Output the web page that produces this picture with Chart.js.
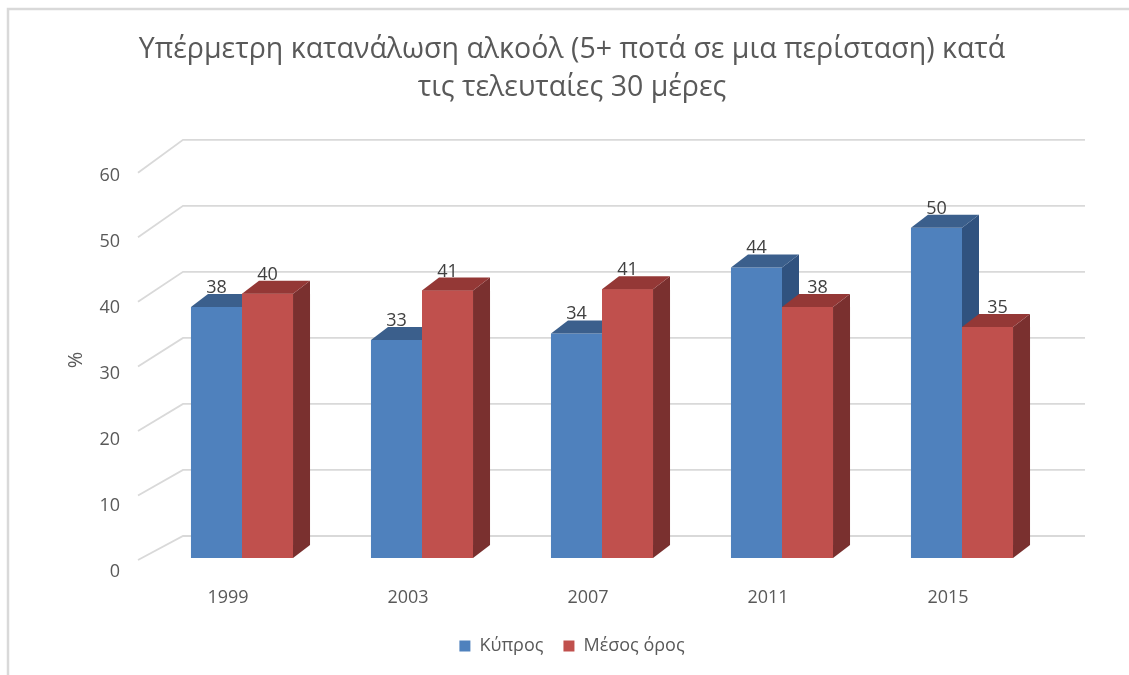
<!DOCTYPE html>
<html><head><meta charset="utf-8">
<script src="https://cdn.jsdelivr.net/npm/chart.js@4.4.1/dist/chart.umd.min.js"></script>
<style>html,body{margin:0;padding:0;background:#fff;} canvas{display:block;}</style>
</head><body>
<canvas id="c" width="1129" height="675"></canvas>
<script>
const categories = ['1999', '2003', '2007', '2011', '2015'];
const cyprusValues = [38, 33, 34, 44, 50];
const averageValues = [40, 40.5, 40.7, 38, 35];
const seriesNames = ['Κύπρος', 'Μέσος όρος'];
const yTicks = [0, 10, 20, 30, 40, 50, 60];
const titleLines = ['Υπέρμετρη κατανάλωση αλκοόλ (5+ ποτά σε μια περίσταση) κατά', 'τις τελευταίες 30 μέρες'];
const yAxisTitle = '%';

const DEPTH_X = 17, DEPTH_Y = 13;
const FONT = "'Open Sans', sans-serif";
const TEXT = '#595959';
const frontColors = ['#4F81BD', '#C0504D'];
const faceColors = [{top: '#3B5F8C', side: '#30527F'}, {top: '#943836', side: '#7A302F'}];

function drawFaces(ctx, bar, c) {
  const {x, y, base, width} = bar.getProps(['x', 'y', 'base', 'width'], true);
  const x1 = x - width / 2, x2 = x + width / 2;
  ctx.fillStyle = c.side;
  ctx.beginPath();
  ctx.moveTo(x2, y); ctx.lineTo(x2 + DEPTH_X, y - DEPTH_Y);
  ctx.lineTo(x2 + DEPTH_X, base - DEPTH_Y); ctx.lineTo(x2, base);
  ctx.closePath(); ctx.fill();
  ctx.fillStyle = c.top;
  ctx.beginPath();
  ctx.moveTo(x1, y); ctx.lineTo(x2, y);
  ctx.lineTo(x2 + DEPTH_X, y - DEPTH_Y); ctx.lineTo(x1 + DEPTH_X, y - DEPTH_Y);
  ctx.closePath(); ctx.fill();
}

const threeD = {
  id: 'threeD',
  beforeDraw(chart) {
    const ctx = chart.ctx;
    ctx.save();
    ctx.fillStyle = '#fff';
    ctx.fillRect(0, 0, chart.width, chart.height);
    ctx.strokeStyle = '#D9D9D9';
    ctx.lineWidth = 2.5;
    ctx.beginPath();
    ctx.moveTo(8, chart.height); ctx.lineTo(8, 9); ctx.lineTo(chart.width, 9);
    ctx.stroke();
    ctx.restore();
  },
  beforeDatasetsDraw(chart) {
    const ctx = chart.ctx, ys = chart.scales.y, area = chart.chartArea;
    ctx.save();
    ctx.strokeStyle = '#D9D9D9';
    ctx.lineWidth = 1.8;
    yTicks.forEach(v => {
      const yf = ys.getPixelForValue(v);
      const yb = yf - 22;
      const yd = yf + 2 + (v - ys.min) / (ys.max - ys.min) * 9;
      ctx.beginPath();
      ctx.moveTo(area.left - 14, yd);
      ctx.lineTo(area.left + 31, yb);
      ctx.lineTo(area.right + 33, yb);
      ctx.stroke();
    });
    ctx.restore();
  },
  afterDatasetsDraw(chart) {
    const ctx = chart.ctx;
    ctx.save();
    const m0 = chart.getDatasetMeta(0), m1 = chart.getDatasetMeta(1);
    m0.data.forEach(bar => drawFaces(ctx, bar, faceColors[0]));
    m1.data.forEach(bar => { bar.draw(ctx); drawFaces(ctx, bar, faceColors[1]); });
    ctx.font = "18px " + FONT;
    ctx.fillStyle = '#404040';
    ctx.textAlign = 'center';
    ctx.textBaseline = 'alphabetic';
    [m0, m1].forEach((meta, di) => {
      meta.data.forEach((bar, i) => {
        const v = chart.data.datasets[di].data[i];
        // when the right-hand bar sits lower than its neighbour, Excel nudges its label right
        const nudge = (di === 1 && m0.data[i].y < bar.y - DEPTH_Y) ? 10 : 0;
        ctx.fillText(String(Math.round(v)), bar.x + nudge, bar.y - DEPTH_Y - 1);
      });
    });
    ctx.restore();
  }
};

new Chart(document.getElementById('c'), {
  type: 'bar',
  data: {
    labels: categories,
    datasets: [
      {label: seriesNames[0], data: cyprusValues, backgroundColor: frontColors[0], borderWidth: 0},
      {label: seriesNames[1], data: averageValues, backgroundColor: frontColors[1], borderWidth: 0}
    ]
  },
  options: {
    responsive: false,
    animation: false,
    events: [],
    categoryPercentage: 0.567,
    barPercentage: 1,
    layout: {padding: {left: 15, right: 0, top: 0, bottom: 10}},
    plugins: {
      tooltip: {enabled: false},
      title: {
        display: true,
        text: titleLines,
        color: TEXT,
        font: {family: FONT, size: 28.5, weight: 'normal', lineHeight: 1.33},
        padding: {top: 31, bottom: 55}
      },
      legend: {
        position: 'bottom',
        labels: {
          color: TEXT,
          font: {family: FONT, size: 18},
          boxWidth: 11, boxHeight: 11,
          padding: 20
        }
      }
    },
    scales: {
      x: {
        grid: {display: false, drawTicks: false},
        border: {display: false},
        ticks: {color: TEXT, font: {family: FONT, size: 18}, padding: 29, labelOffset: -14},
        afterFit(scale) { scale.height = Math.max(10, scale.chart.height - 10 - scale.chart.legend.height - 558); }
      },
      y: {
        min: 0, max: 60,
        grid: {display: false, drawTicks: false},
        border: {display: false},
        ticks: {stepSize: 10, color: TEXT, font: {family: FONT, size: 18}, padding: 32, labelOffset: 14},
        title: {display: true, text: yAxisTitle, color: TEXT, font: {family: FONT, size: 20}, padding: {top: 49, bottom: 0}},
        afterFit(scale) { scale.width = 137; }
      },
      yRight: {
        type: 'linear',
        position: 'right',
        display: true,
        grid: {display: false, drawTicks: false},
        border: {display: false},
        ticks: {display: false},
        afterFit(scale) { scale.width = 77; }
      }
    }
  },
  plugins: [threeD]
});
</script>
</body></html>
